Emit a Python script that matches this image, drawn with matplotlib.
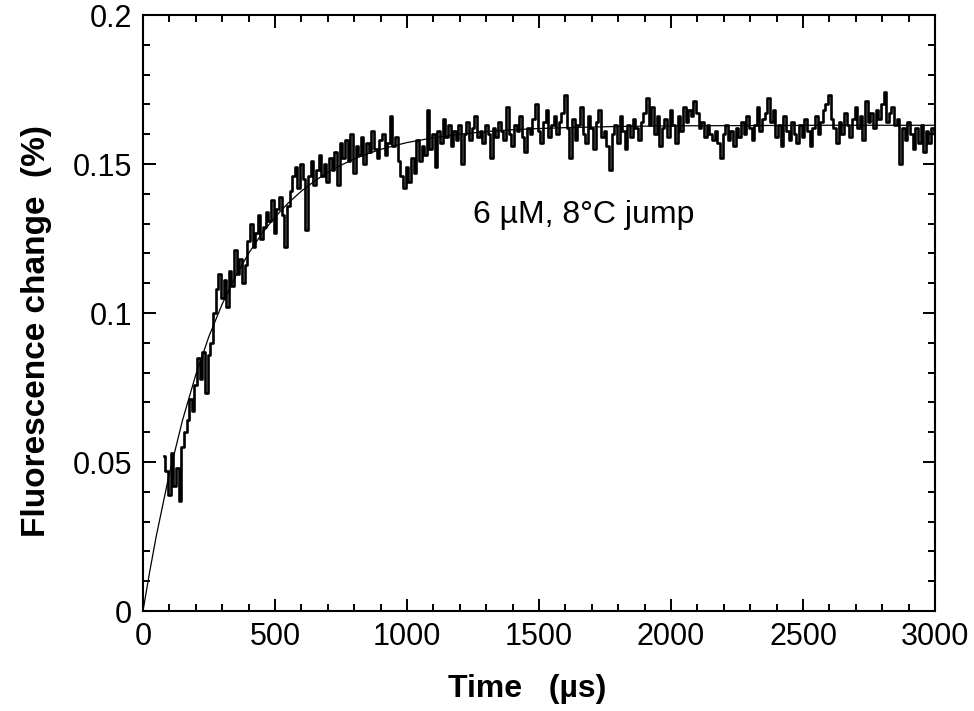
import numpy as np
import matplotlib
matplotlib.use("Agg")
import matplotlib.pyplot as plt
from matplotlib.ticker import MultipleLocator

plt.rcParams['font.family'] = ['Liberation Sans', 'DejaVu Sans']

# measured trace, one reading every 10 us from 80 to 3000 us
time = np.arange(80, 3001, 10)
signal = [
    0.052, 0.047, 0.039, 0.053, 0.042, 0.048, 0.037, 0.055, 0.060, 0.064,  # 80
    0.071, 0.067, 0.076, 0.085, 0.078, 0.087, 0.073, 0.086, 0.090, 0.100,  # 180
    0.108, 0.113, 0.105, 0.111, 0.102, 0.114, 0.109, 0.121, 0.113, 0.118,  # 280
    0.110, 0.116, 0.124, 0.130, 0.122, 0.127, 0.133, 0.125, 0.129, 0.134,  # 380
    0.131, 0.138, 0.127, 0.135, 0.139, 0.133, 0.122, 0.136, 0.141, 0.146,  # 480
    0.149, 0.142, 0.150, 0.145, 0.128, 0.146, 0.151, 0.143, 0.148, 0.153,  # 580
    0.146, 0.150, 0.144, 0.152, 0.148, 0.154, 0.143, 0.157, 0.152, 0.158,  # 680
    0.151, 0.160, 0.147, 0.156, 0.153, 0.159, 0.150, 0.157, 0.154, 0.161,  # 780
    0.155, 0.152, 0.158, 0.160, 0.153, 0.157, 0.166, 0.156, 0.159, 0.151,  # 880
    0.146, 0.142, 0.149, 0.144, 0.152, 0.147, 0.158, 0.151, 0.156, 0.153,  # 980
    0.168, 0.155, 0.160, 0.149, 0.161, 0.157, 0.165, 0.159, 0.163, 0.156,  # 1080
    0.161, 0.158, 0.163, 0.150, 0.160, 0.164, 0.158, 0.162, 0.166, 0.159,  # 1180
    0.161, 0.157, 0.163, 0.160, 0.152, 0.162, 0.159, 0.164, 0.161, 0.158,  # 1280
    0.169, 0.160, 0.156, 0.163, 0.161, 0.166, 0.159, 0.154, 0.162, 0.160,  # 1380
    0.165, 0.170, 0.161, 0.157, 0.164, 0.168, 0.159, 0.163, 0.166, 0.160,  # 1480
    0.164, 0.167, 0.173, 0.162, 0.152, 0.165, 0.158, 0.163, 0.169, 0.160,  # 1580
    0.157, 0.166, 0.162, 0.155, 0.164, 0.168, 0.159, 0.161, 0.156, 0.148,  # 1680
    0.160, 0.163, 0.157, 0.166, 0.161, 0.155, 0.163, 0.159, 0.165, 0.162,  # 1780
    0.158, 0.164, 0.167, 0.172, 0.163, 0.169, 0.160, 0.166, 0.156, 0.162,  # 1880
    0.165, 0.159, 0.168, 0.163, 0.157, 0.166, 0.161, 0.169, 0.164, 0.168,  # 1980
    0.166, 0.171, 0.167, 0.162, 0.164, 0.159, 0.163, 0.160, 0.158, 0.161,  # 2080
    0.157, 0.152, 0.160, 0.163, 0.158, 0.161, 0.156, 0.162, 0.159, 0.164,  # 2180
    0.160, 0.166, 0.162, 0.158, 0.163, 0.169, 0.161, 0.165, 0.167, 0.172,  # 2280
    0.164, 0.168, 0.159, 0.163, 0.156, 0.166, 0.161, 0.158, 0.164, 0.160,  # 2380
    0.157, 0.163, 0.159, 0.165, 0.161, 0.156, 0.162, 0.166, 0.160, 0.164,  # 2480
    0.168, 0.170, 0.173, 0.165, 0.162, 0.157, 0.164, 0.160, 0.167, 0.163,  # 2580
    0.159, 0.165, 0.169, 0.162, 0.166, 0.158, 0.171, 0.164, 0.167, 0.162,  # 2680
    0.168, 0.165, 0.170, 0.174, 0.164, 0.167, 0.169, 0.163, 0.165, 0.150,  # 2780
    0.162, 0.158, 0.164, 0.160, 0.155, 0.162, 0.157, 0.163, 0.154, 0.161,  # 2880
    0.157, 0.162, 0.160,                                                   # 2980
]

# single exponential fit
fit_time = [0, 25, 50, 100, 150, 200, 250, 300, 350, 400, 450, 500, 550, 600,
            650, 700, 750, 800, 850, 900, 950, 1000, 1100, 1200, 1300, 1400,
            1500, 1600, 1800, 2000, 2300, 2600, 3000]
fit_value = [0.0, 0.0130, 0.0250, 0.0462, 0.0641, 0.0793, 0.0922, 0.1030,
             0.1122, 0.1200, 0.1266, 0.1322, 0.1369, 0.1409, 0.1443, 0.1472,
             0.1496, 0.1517, 0.1534, 0.1549, 0.1561, 0.1572, 0.1588, 0.1600,
             0.1609, 0.1615, 0.1619, 0.1622, 0.1626, 0.1628, 0.1629, 0.1630,
             0.1630]

xticks = [0, 500, 1000, 1500, 2000, 2500, 3000]
xtick_labels = ['0', '500', '1000', '1500', '2000', '2500', '3000']
yticks = [0, 0.05, 0.1, 0.15, 0.2]
ytick_labels = ['0', '0.05', '0.1', '0.15', '0.2']

fig = plt.figure(figsize=(9.74, 7.11), dpi=100)
ax = fig.add_axes([0.1468, 0.1406, 0.8132, 0.8383])

ax.plot(time, signal, color='black', lw=1.9, drawstyle='steps-mid')
ax.plot(fit_time, fit_value, color='black', lw=0.9)

ax.set_xlim(0, 3000)
ax.set_ylim(0, 0.2)
ax.set_xticks(xticks)
ax.set_xticklabels(xtick_labels)
ax.set_yticks(yticks)
ax.set_yticklabels(ytick_labels)
ax.xaxis.set_minor_locator(MultipleLocator(100))
ax.yaxis.set_minor_locator(MultipleLocator(0.01))

ax.tick_params(which='both', direction='in', top=True, right=True,
               width=1.4, labelsize=22, pad=8)
ax.tick_params(which='major', length=9)
ax.tick_params(which='minor', length=5)
for sp in ax.spines.values():
    sp.set_linewidth(1.5)

ax.set_xlabel('Time   (\u00b5s)', fontsize=23, fontweight='bold')
ax.xaxis.set_label_coords(0.485, -0.105)
ax.set_ylabel('Fluorescence change  (%)', fontsize=24, fontweight='bold')
ax.yaxis.set_label_coords(-0.115, 0.47)

ax.text(1250, 0.133, '6 \u00b5M, 8\u00b0C jump', fontsize=23, va='center')

fig.savefig('out.png', dpi=100)
